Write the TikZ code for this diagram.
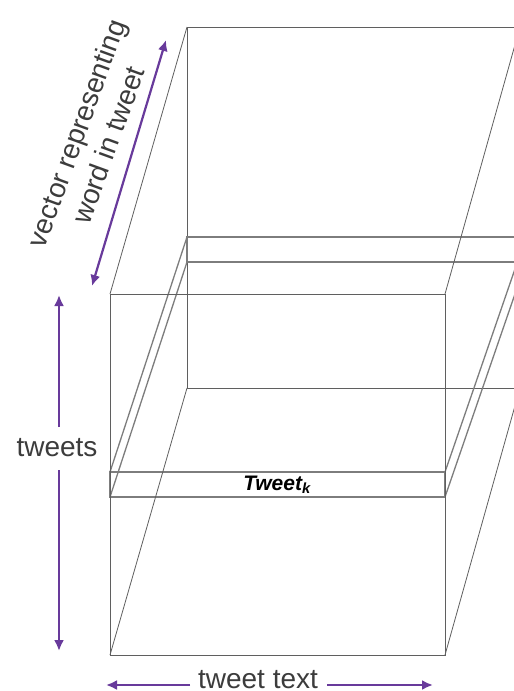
\documentclass[tikz,border=0pt]{standalone}
\usepackage{fontspec}
\setmainfont{Liberation Sans}
\usetikzlibrary{arrows.meta}
\definecolor{arrowpurple}{RGB}{104,58,155}
\definecolor{wire}{RGB}{95,95,95}
\definecolor{slabwire}{RGB}{125,125,125}
\definecolor{labelgray}{RGB}{60,60,60}
\begin{document}
\begin{tikzpicture}[x=1pt,y=-1pt,
  cubeline/.style={draw=wire,line width=0.8pt},
  slabline/.style={draw=slabwire,line width=1.3pt},
  dimarrow/.style={draw=arrowpurple,line width=2.2pt,-{Latex[length=11pt,width=10pt]}},
  dimarrows/.style={draw=arrowpurple,line width=2.2pt,{Latex[length=11pt,width=10pt]}-{Latex[length=11pt,width=10pt]}},
  dimlabel/.style={text=labelgray,font=\fontsize{28}{34}\selectfont,inner sep=0pt}]
\useasboundingbox (0,0) rectangle (514,691);
\fill[white] (0,0) rectangle (514,691);
\begin{scope}
\clip (0,0) rectangle (514,691);
% cube corners
\coordinate (fA) at (110,294);
\coordinate (fB) at (445,294);
\coordinate (fC) at (445,655);
\coordinate (fD) at (110,655);
\coordinate (bA) at (187,27);
\coordinate (bB) at (520,27);
\coordinate (bC) at (520,388);
\coordinate (bD) at (187,388);
% slab corners
\coordinate (sA) at (110,472);
\coordinate (sB) at (445,472);
\coordinate (sC) at (445,497);
\coordinate (sD) at (110,497);
\coordinate (tA) at (187,237);
\coordinate (tB) at (526,237);
\coordinate (tC) at (526,262);
\coordinate (tD) at (187,262);
% back face
\draw[cubeline] (bA) -- (bB) -- (bC) -- (bD) -- cycle;
% slab
\draw[slabline] (tA) -- (tB) -- (tC) -- (tD) -- cycle;
\draw[slabline] (sA) -- (tA);
\draw[slabline] (sD) -- (tD);
\draw[slabline] (sB) -- (tB);
\draw[slabline] (sC) -- (tC);
\draw[slabline] (sA) -- (sB) -- (sC) -- (sD) -- cycle;
% cube front and depth edges
\draw[cubeline] (fA) -- (fB) -- (fC) -- (fD) -- cycle;
\draw[cubeline] (fA) -- (bA);
\draw[cubeline] (fB) -- (bB);
\draw[cubeline] (fC) -- (bC);
\draw[cubeline] (fD) -- (bD);
\end{scope}
% slab label
\node[text=black,font=\fontsize{21}{24}\selectfont\bfseries\itshape,inner sep=0pt] (tk) at (277,485) {Tweet\textsubscript{k}};
% tweets arrow
\node[dimlabel] (tw) at (57,448) {tweets};
\coordinate (twTop) at (59,295);
\coordinate (twBot) at (59,651);
\coordinate (twA) at (59,427);
\coordinate (twB) at (59,470);
\draw[dimarrow] (twA) -- (twTop);
\draw[dimarrow] (twB) -- (twBot);
% tweet text arrow
\node[dimlabel,anchor=base] (tt) at (258,688) {tweet text};
\coordinate (ttL) at (106,685);
\coordinate (ttR) at (433,685);
\coordinate (ttA) at (190,685);
\coordinate (ttB) at (327,685);
\draw[dimarrow] (ttA) -- (ttL);
\draw[dimarrow] (ttB) -- (ttR);
% vector arrow
\coordinate (vTop) at (166,40);
\coordinate (vBot) at (92,286);
\draw[dimarrows] (vBot) -- (vTop);
\node[dimlabel,align=center,rotate=70] (vr) at (92,139) {vector representing\\word in tweet};
\end{tikzpicture}
\end{document}
